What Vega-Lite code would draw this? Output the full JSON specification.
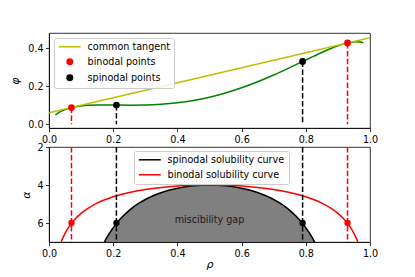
{
  "$schema": "https://vega.github.io/schema/vega-lite/v6.json",
  "background": "white",
  "padding": {"left": 9, "top": 32, "right": 0, "bottom": 0},
  "config": {
    "font": "DejaVu Sans",
    "view": {"stroke": "black", "strokeWidth": 0.8},
    "axis": {
      "labelFont": "DejaVu Sans", "labelFontSize": 9.6, "labelColor": "black",
      "domainColor": "black", "domainWidth": 0.8, "tickColor": "black", "tickWidth": 0.8,
      "tickSize": 3.5, "labelPadding": 2.5, "grid": false, "labelFlush": false,
      "titleFont": "DejaVu Sans", "titleFontSize": 11, "titleFontWeight": "normal",
      "titleFontStyle": "italic", "titleColor": "black", "titlePadding": 4
    },
    "legend": {
      "labelFont": "DejaVu Sans", "labelFontSize": 9.6, "labelColor": "black",
      "fillColor": "rgba(255,255,255,0.85)", "strokeColor": "#cccccc",
      "padding": 4, "cornerRadius": 2, "symbolStrokeWidth": 1.5, "rowPadding": 4,
      "symbolSize": 30, "symbolOffset": 7, "labelOffset": 13
    }
  },
  "datasets": {
    "free": [
      {"rho": 0.02, "phi": 0.0487}, {"rho": 0.03, "phi": 0.0610}, {"rho": 0.04, "phi": 0.0702},
      {"rho": 0.05, "phi": 0.0774}, {"rho": 0.06, "phi": 0.0831}, {"rho": 0.07, "phi": 0.0876},
      {"rho": 0.08, "phi": 0.0912}, {"rho": 0.10, "phi": 0.0962}, {"rho": 0.12, "phi": 0.0992},
      {"rho": 0.15, "phi": 0.1011}, {"rho": 0.18, "phi": 0.1014}, {"rho": 0.21, "phi": 0.1009},
      {"rho": 0.25, "phi": 0.1002}, {"rho": 0.30, "phi": 0.1010}, {"rho": 0.35, "phi": 0.1049},
      {"rho": 0.40, "phi": 0.1127}, {"rho": 0.45, "phi": 0.1251}, {"rho": 0.50, "phi": 0.1423},
      {"rho": 0.55, "phi": 0.1646}, {"rho": 0.60, "phi": 0.1917}, {"rho": 0.65, "phi": 0.2234},
      {"rho": 0.70, "phi": 0.2590}, {"rho": 0.75, "phi": 0.2977}, {"rho": 0.79, "phi": 0.3300},
      {"rho": 0.82, "phi": 0.3542}, {"rho": 0.85, "phi": 0.3776}, {"rho": 0.88, "phi": 0.3994},
      {"rho": 0.90, "phi": 0.4122}, {"rho": 0.92, "phi": 0.4230}, {"rho": 0.93, "phi": 0.4273},
      {"rho": 0.94, "phi": 0.4307}, {"rho": 0.95, "phi": 0.4329}, {"rho": 0.96, "phi": 0.4336},
      {"rho": 0.97, "phi": 0.4323}, {"rho": 0.98, "phi": 0.4279}
    ],
    "tangent": [
      {"rho": 0.0, "phi": 0.06, "series": "common tangent"},
      {"rho": 1.0, "phi": 0.455, "series": "common tangent"}
    ],
    "tpoints": [
      {"rho": 0.07, "phi": 0.0876, "series": "binodal points"},
      {"rho": 0.93, "phi": 0.4273, "series": "binodal points"},
      {"rho": 0.21, "phi": 0.1009, "series": "spinodal points"},
      {"rho": 0.79, "phi": 0.3300, "series": "spinodal points"}
    ],
    "spinodal": [
      {"rho": 0.1727, "alpha": 7.0}, {"rho": 0.175, "alpha": 6.926}, {"rho": 0.18, "alpha": 6.775},
      {"rho": 0.185, "alpha": 6.632}, {"rho": 0.19, "alpha": 6.498}, {"rho": 0.20, "alpha": 6.25},
      {"rho": 0.21, "alpha": 6.028}, {"rho": 0.23, "alpha": 5.647}, {"rho": 0.25, "alpha": 5.333},
      {"rho": 0.28, "alpha": 4.960}, {"rho": 0.30, "alpha": 4.762}, {"rho": 0.33, "alpha": 4.523},
      {"rho": 0.36, "alpha": 4.340}, {"rho": 0.40, "alpha": 4.167}, {"rho": 0.45, "alpha": 4.040},
      {"rho": 0.50, "alpha": 4.0}, {"rho": 0.55, "alpha": 4.040}, {"rho": 0.60, "alpha": 4.167},
      {"rho": 0.64, "alpha": 4.340}, {"rho": 0.67, "alpha": 4.523}, {"rho": 0.70, "alpha": 4.762},
      {"rho": 0.72, "alpha": 4.960}, {"rho": 0.75, "alpha": 5.333}, {"rho": 0.77, "alpha": 5.647},
      {"rho": 0.79, "alpha": 6.028}, {"rho": 0.80, "alpha": 6.25}, {"rho": 0.81, "alpha": 6.498},
      {"rho": 0.815, "alpha": 6.632}, {"rho": 0.82, "alpha": 6.775}, {"rho": 0.825, "alpha": 6.926},
      {"rho": 0.8273, "alpha": 7.0}
    ],
    "binodal": [
      {"rho": 0.0381, "alpha": 7.0}, {"rho": 0.04, "alpha": 6.909}, {"rho": 0.045, "alpha": 6.715},
      {"rho": 0.05, "alpha": 6.543}, {"rho": 0.06, "alpha": 6.253}, {"rho": 0.07, "alpha": 6.016},
      {"rho": 0.08, "alpha": 5.815}, {"rho": 0.10, "alpha": 5.493}, {"rho": 0.12, "alpha": 5.243},
      {"rho": 0.15, "alpha": 4.956}, {"rho": 0.20, "alpha": 4.621}, {"rho": 0.25, "alpha": 4.394},
      {"rho": 0.30, "alpha": 4.236}, {"rho": 0.35, "alpha": 4.127}, {"rho": 0.40, "alpha": 4.055},
      {"rho": 0.45, "alpha": 4.013}, {"rho": 0.50, "alpha": 4.0}, {"rho": 0.55, "alpha": 4.013},
      {"rho": 0.60, "alpha": 4.055}, {"rho": 0.65, "alpha": 4.127}, {"rho": 0.70, "alpha": 4.236},
      {"rho": 0.75, "alpha": 4.394}, {"rho": 0.80, "alpha": 4.621}, {"rho": 0.85, "alpha": 4.956},
      {"rho": 0.88, "alpha": 5.243}, {"rho": 0.90, "alpha": 5.493}, {"rho": 0.92, "alpha": 5.815},
      {"rho": 0.93, "alpha": 6.016}, {"rho": 0.94, "alpha": 6.253}, {"rho": 0.95, "alpha": 6.543},
      {"rho": 0.955, "alpha": 6.715}, {"rho": 0.96, "alpha": 6.909}, {"rho": 0.9619, "alpha": 7.0}
    ],
    "bpoints": [
      {"rho": 0.07, "alpha": 6, "kind": "binodal"},
      {"rho": 0.93, "alpha": 6, "kind": "binodal"},
      {"rho": 0.21, "alpha": 6, "kind": "spinodal"},
      {"rho": 0.79, "alpha": 6, "kind": "spinodal"}
    ],
    "gaplabel": [
      {"rho": 0.5, "alpha": 5.85, "label": "miscibility gap"}
    ]
  },
  "spacing": 19,
  "bounds": "flush",
  "resolve": {
    "scale": {"color": "independent", "x": "independent", "y": "independent"},
    "legend": {"color": "independent"}
  },
  "vconcat": [
    {
      "width": 321,
      "height": 95,
      "encoding": {
        "x": {"field": "rho", "type": "quantitative",
              "scale": {"domain": [0, 1], "nice": false, "zero": false},
              "axis": {"values": [0, 0.2, 0.4, 0.6, 0.8, 1.0], "format": ".1f", "title": null}},
        "y": {"field": "phi", "type": "quantitative",
              "scale": {"domain": [-0.02, 0.48], "nice": false, "zero": false},
              "axis": {"values": [0, 0.2, 0.4], "format": ".1f", "title": "φ", "titlePadding": 7}}
      },
      "layer": [
        {
          "data": {"name": "free"},
          "mark": {"type": "line", "color": "#008000", "strokeWidth": 1.5, "interpolate": "monotone"},
          "encoding": {}
        },
        {
          "data": {"name": "tangent"},
          "mark": {"type": "line", "strokeWidth": 1.5},
          "encoding": {
            "stroke": {
              "field": "series", "type": "nominal",
              "scale": {"domain": ["common tangent", "binodal points", "spinodal points"],
                        "range": ["#bfbf00", "#ff0000", "#000000"]},
              "legend": {"title": null, "orient": "none", "legendX": 5, "legendY": 5}
            }
          }
        },
        {
          "data": {"name": "tpoints"},
          "mark": {"type": "rule", "strokeWidth": 1.5, "strokeDash": [5.5, 2.4]},
          "encoding": {
            "y2": {"datum": 0},
            "stroke": {"field": "series", "type": "nominal", "legend": {"title": null}}
          }
        },
        {
          "data": {"name": "tpoints"},
          "mark": {"type": "point", "filled": true, "opacity": 1, "strokeWidth": 1.5, "size": 28},
          "encoding": {
            "stroke": {"field": "series", "type": "nominal", "legend": {"title": null}},
            "fill": {"field": "series", "type": "nominal",
              "scale": {"domain": ["common tangent", "binodal points", "spinodal points"],
                        "range": ["transparent", "#ff0000", "#000000"]},
              "legend": {"title": null, "orient": "none", "legendX": 5, "legendY": 5}},
            "shape": {"field": "series", "type": "nominal",
              "scale": {"domain": ["common tangent", "binodal points", "spinodal points"],
                        "range": ["M-4,0H4", "circle", "circle"]},
              "legend": {"title": null, "orient": "none", "legendX": 5, "legendY": 5}}
          }
        }
      ]
    },
    {
      "width": 321,
      "height": 95,
      "encoding": {
        "x": {"field": "rho", "type": "quantitative",
              "scale": {"domain": [0, 1], "nice": false, "zero": false},
              "axis": {"values": [0, 0.2, 0.4, 0.6, 0.8, 1.0], "format": ".1f", "title": "ρ", "titlePadding": 1}}
      },
      "layer": [
        {
          "data": {"name": "spinodal"},
          "mark": {"type": "area", "color": "#808080", "opacity": 1, "interpolate": "monotone"},
          "encoding": {
            "y": {"field": "alpha", "type": "quantitative",
                  "scale": {"domain": [2, 7], "nice": false, "zero": false, "reverse": true},
                  "axis": {"values": [2, 4, 6], "format": "d", "title": "α", "titlePadding": 5}},
            "y2": {"datum": 7}
          }
        },
        {
          "data": {"name": "spinodal"},
          "mark": {"type": "line", "strokeWidth": 1.5, "interpolate": "monotone"},
          "encoding": {
            "y": {"field": "alpha", "type": "quantitative"},
            "color": {"datum": "spinodal solubility curve", "type": "nominal",
              "scale": {"domain": ["spinodal solubility curve", "binodal solubility curve"],
                        "range": ["#000000", "#ff0000"]},
              "legend": {"title": null, "orient": "none", "legendX": 85, "legendY": 4,
                         "symbolType": "M-4,0H4", "symbolSize": 30}}
          }
        },
        {
          "data": {"name": "binodal"},
          "mark": {"type": "line", "strokeWidth": 1.5, "interpolate": "monotone"},
          "encoding": {
            "y": {"field": "alpha", "type": "quantitative"},
            "color": {"datum": "binodal solubility curve", "type": "nominal"}
          }
        },
        {
          "data": {"name": "bpoints"},
          "transform": [{"filter": "datum.kind === 'binodal'"}],
          "mark": {"type": "rule", "color": "#ff0000", "strokeWidth": 1.5, "strokeDash": [5.5, 2.4]},
          "encoding": {}
        },
        {
          "data": {"name": "bpoints"},
          "transform": [{"filter": "datum.kind === 'spinodal'"}],
          "mark": {"type": "rule", "color": "#000000", "strokeWidth": 1.5, "strokeDash": [5.5, 2.4]},
          "encoding": {}
        },
        {
          "data": {"name": "bpoints"},
          "transform": [{"filter": "datum.kind === 'binodal'"}],
          "mark": {"type": "point", "filled": true, "size": 40, "opacity": 1, "color": "#ff0000"},
          "encoding": {"y": {"field": "alpha", "type": "quantitative"}}
        },
        {
          "data": {"name": "bpoints"},
          "transform": [{"filter": "datum.kind === 'spinodal'"}],
          "mark": {"type": "point", "filled": true, "size": 40, "opacity": 1, "color": "#000000"},
          "encoding": {"y": {"field": "alpha", "type": "quantitative"}}
        },
        {
          "data": {"name": "gaplabel"},
          "mark": {"type": "text", "font": "DejaVu Sans", "fontSize": 9.6, "color": "#1a1a1a"},
          "encoding": {"y": {"field": "alpha", "type": "quantitative"}, "text": {"field": "label"}}
        }
      ]
    }
  ]
}
